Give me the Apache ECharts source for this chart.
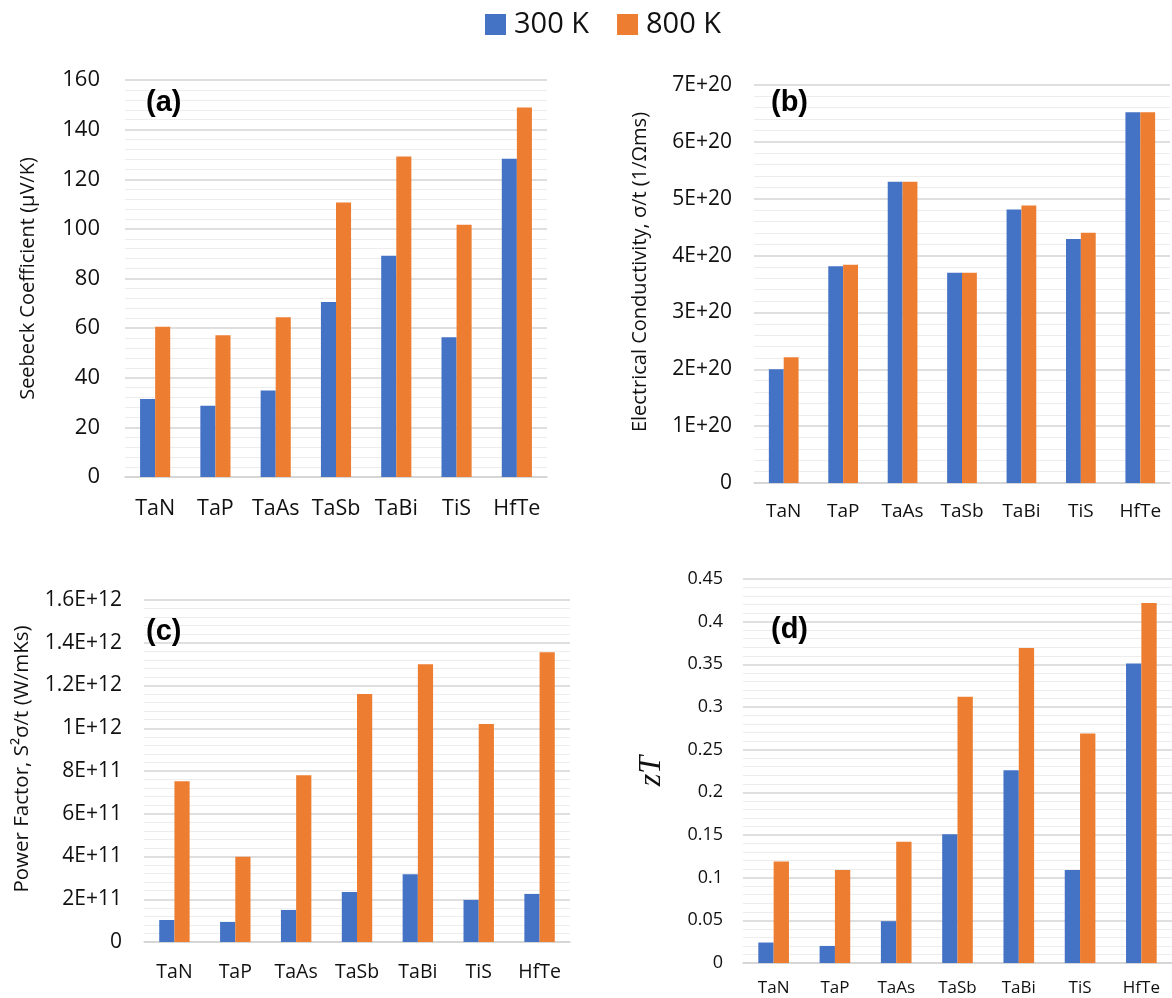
<!DOCTYPE html>
<html>
<head>
<meta charset="utf-8">
<script src="https://cdn.jsdelivr.net/npm/echarts@6/dist/echarts.min.js"></script>
<style>
html,body{margin:0;padding:0;background:#fff;}
#chart{width:1172px;height:998px;}
</style>
</head>
<body>
<div id="chart"></div>
<script>
const categories = ['TaN','TaP','TaAs','TaSb','TaBi','TiS','HfTe'];
const seriesNames = ['300 K','800 K'];
const seebeck300 = [31.4, 28.7, 34.9, 70.5, 89.2, 56.3, 128.3];
const seebeck800 = [60.6, 57.1, 64.4, 110.6, 129.2, 101.7, 148.9];
const cond300 = [2.00e20, 3.81e20, 5.30e20, 3.70e20, 4.81e20, 4.29e20, 6.52e20];
const cond800 = [2.21e20, 3.84e20, 5.30e20, 3.70e20, 4.88e20, 4.40e20, 6.52e20];
const pf300 = [1.03e11, 0.94e11, 1.50e11, 2.34e11, 3.17e11, 1.97e11, 2.25e11];
const pf800 = [7.52e11, 3.99e11, 7.80e11, 11.6e11, 12.99e11, 10.2e11, 13.55e11];
const zt300 = [0.024, 0.020, 0.049, 0.151, 0.226, 0.109, 0.351];
const zt800 = [0.119, 0.109, 0.142, 0.312, 0.369, 0.269, 0.422];
const panelLabels = ['(a)','(b)','(c)','(d)'];
const axisNames = ['Seebeck Coefficient (\u03bcV/K)', 'Electrical Conductivity, \u03c3/t (1/\u03a9ms)', 'Power Factor, S\u00b2\u03c3/t (W/mKs)', 'zT'];

const BLUE = '#4472C4', ORANGE = '#ED7D31';
const FONT = '"Open Sans", sans-serif';

function sci(v){
  if (v === 0) return '0';
  return Number(v.toPrecision(3)).toExponential().replace('e','E');
}

const panels = [
  {grid:{left:125, top:80, width:422, height:397}, min:0, max:160, interval:20, fmt:null,
   tickFont:22, catFont:21.5, labMargin:25, catMargin:21, nameGap:87, nameFont:20, namePad:[0,0,0,0],
   d:[seebeck300, seebeck800]},
  {grid:{left:754, top:85, width:416, height:398}, min:0, max:7e20, interval:1e20, fmt:sci,
   tickFont:21, catFont:19, labMargin:22, catMargin:19, nameGap:104, nameFont:20, namePad:[0,0,0,24],
   d:[cond300, cond800]},
  {grid:{left:144, top:600, width:426, height:342}, min:0, max:1.6e12, interval:2e11, fmt:sci,
   tickFont:21, catFont:19.5, labMargin:22, catMargin:20, nameGap:111, nameFont:20.5, namePad:[0,0,0,24],
   d:[pf300, pf800]},
  {grid:{left:743, top:579, width:430, height:384}, min:0, max:0.45, interval:0.05, fmt:null,
   tickFont:18, catFont:17, labMargin:20, catMargin:17, nameGap:75, nameFont:32, namePad:[0,0,0,0],
   d:[zt300, zt800]}
];

const grids = [], xAxes = [], yAxes = [], series = [];
panels.forEach((p, i) => {
  grids.push(Object.assign({containLabel:false}, p.grid));
  xAxes.push({
    type:'category', gridIndex:i, data:categories,
    axisLine:{show:true, lineStyle:{color:'#d4d4d4', width:1.5}},
    axisTick:{show:false},
    axisLabel:{color:'#111', fontFamily:FONT, fontSize:p.catFont, margin:p.catMargin, interval:0, hideOverlap:false}
  });
  const nameStyle = i === 3
    ? {fontFamily:'"Liberation Serif", "DejaVu Serif", serif', fontStyle:'italic', fontSize:p.nameFont, color:'#111', padding:p.namePad}
    : {fontFamily:FONT, fontSize:p.nameFont, color:'#111', padding:p.namePad};
  yAxes.push({
    type:'value', gridIndex:i, min:p.min, max:p.max, interval:p.interval,
    name:axisNames[i], nameLocation:'middle', nameGap:p.nameGap, nameRotate:90,
    nameTextStyle:nameStyle,
    axisLine:{show:false}, axisTick:{show:false},
    axisLabel:{color:'#111', fontFamily:FONT, fontSize:p.tickFont, margin:p.labMargin,
      formatter: p.fmt ? p.fmt : undefined},
    splitLine:{show:true, lineStyle:{color:'#d4d4d4', width:1.5}},
    minorTick:{show:false, splitNumber:5},
    minorSplitLine:{show:true, lineStyle:{color:'#ededed', width:1}}
  });
  p.d.forEach((arr, k) => {
    series.push({
      type:'bar', name:seriesNames[k], xAxisIndex:i, yAxisIndex:i, data:arr,
      barWidth:'25%', barGap:'0%',
      itemStyle:{color: k === 0 ? BLUE : ORANGE},
      emphasis:{disabled:true}
    });
  });
});

const labelPos = [[146,106],[771,106],[146,635],[771,633]];
const graphic = labelPos.map((pos, i) => ({
  type:'text', left:pos[0], top:pos[1]-18, z:10,
  style:{text:panelLabels[i], font:'bold 29px "Liberation Sans", Arial, sans-serif', fill:'#000'}
}));

const chart = echarts.init(document.getElementById('chart'), null, {renderer:'canvas'});
chart.setOption({
  animation:false,
  backgroundColor:'#fff',
  legend:{
    top:5, left:480, itemWidth:21, itemHeight:21, itemGap:28, icon:'rect',
    selectedMode:false,
    data:seriesNames,
    textStyle:{fontFamily:FONT, fontSize:29, color:'#111', padding:[0,0,0,3]}
  },
  grid:grids, xAxis:xAxes, yAxis:yAxes, series:series, graphic:graphic
});
</script>
</body>
</html>
